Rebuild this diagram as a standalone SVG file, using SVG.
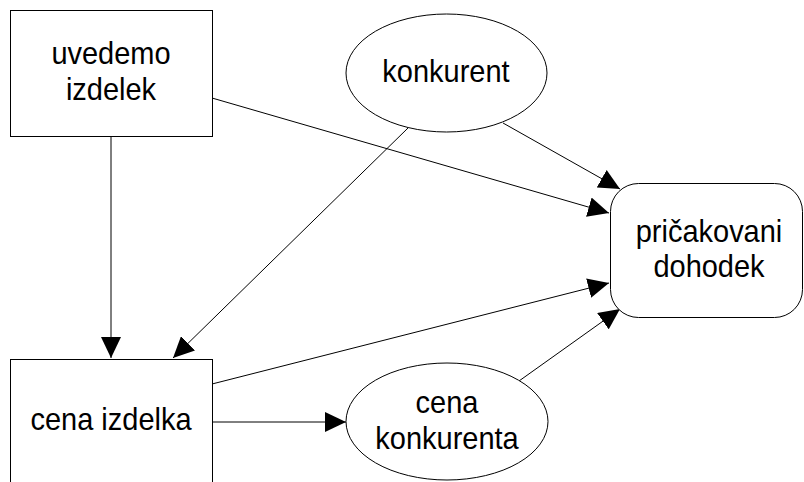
<svg xmlns="http://www.w3.org/2000/svg" width="804" height="482" viewBox="0 0 804 482">
<style>
.n{fill:#fff;stroke:#000;stroke-width:1}
.t{font-family:"Liberation Sans",Arial,sans-serif;font-size:29px;fill:#000;text-anchor:middle}
.c{stroke:#000;stroke-width:1;fill:none;marker-end:url(#ah)}
</style>
<defs>
<marker id="ah" markerUnits="userSpaceOnUse" markerWidth="21" markerHeight="20" refX="21" refY="10" orient="auto">
<path d="M0,0 L21,10 L0,20 z" fill="#000"/>
</marker>
</defs>
<rect width="804" height="482" fill="#fff"/>
<g id="connectors">
<line class="c" x1="212" y1="98" x2="609" y2="213"/>
<line class="c" x1="503" y1="123" x2="620" y2="189"/>
<line class="c" x1="408" y1="128" x2="173" y2="358"/>
<line class="c" x1="111" y1="136" x2="111" y2="358"/>
<line class="c" x1="212" y1="384" x2="609" y2="283"/>
<line class="c" x1="212" y1="422" x2="346" y2="422"/>
<line class="c" x1="519" y1="381" x2="620" y2="309"/>
</g>
<g id="uvedemo">
<rect class="n" x="10.5" y="10.5" width="202" height="126"/>
<text class="t" transform="translate(111,64) scale(1,1.1)">uvedemo</text>
<text class="t" transform="translate(111,100) scale(1,1.1)">izdelek</text>
</g>
<g id="konkurent">
<ellipse class="n" cx="446.5" cy="73" rx="100.5" ry="59"/>
<text class="t" transform="translate(446,82) scale(1,1.1)">konkurent</text>
</g>
<g id="pricakovani">
<rect class="n" x="610.5" y="183.5" width="192" height="134" rx="28" ry="28"/>
<text class="t" transform="translate(709,242) scale(1,1.1)">pričakovani</text>
<text class="t" transform="translate(709,277) scale(1,1.1)">dohodek</text>
</g>
<g id="cena_izdelka">
<rect class="n" x="10.5" y="359.5" width="202" height="130"/>
<text class="t" transform="translate(111,430) scale(1,1.1)">cena izdelka</text>
</g>
<g id="cena_konkurenta">
<ellipse class="n" cx="447" cy="421.5" rx="101" ry="58.5"/>
<text class="t" transform="translate(447,413) scale(1,1.1)">cena</text>
<text class="t" transform="translate(447,449) scale(1,1.1)">konkurenta</text>
</g>
</svg>
